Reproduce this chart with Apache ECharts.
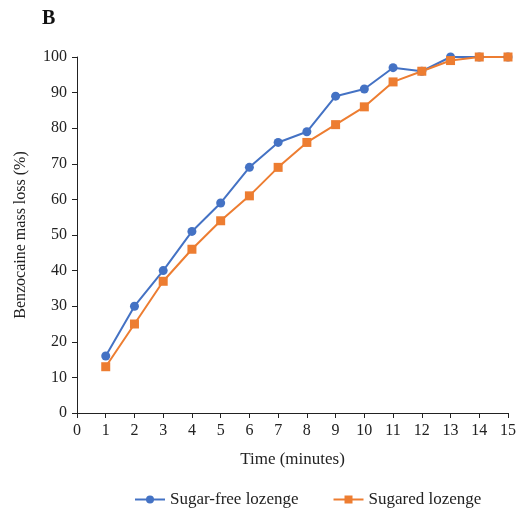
<!DOCTYPE html>
<html>
<head>
<meta charset="utf-8">
<script src="https://cdn.jsdelivr.net/npm/echarts@6/dist/echarts.min.js"></script>
<style>
  html, body { margin: 0; padding: 0; background: #fff; }
  #main { width: 519px; height: 516px; }
</style>
</head>
<body>
<div id="main"></div>
<script>
var times = [1, 2, 3, 4, 5, 6, 7, 8, 9, 10, 11, 12, 13, 14, 15];
var sugarFree = [16, 30, 40, 51, 59, 69, 76, 79, 89, 91, 97, 96, 100, 100, 100];
var sugared = [13, 25, 37, 46, 54, 61, 69, 76, 81, 86, 93, 96, 99, 100, 100];

var font = 'Liberation Serif';

function pairs(vals) {
  return vals.map(function (v, i) { return [times[i], v]; });
}

var chart = echarts.init(document.getElementById('main'));

chart.setOption({
  backgroundColor: '#fff',
  animation: false,
  textStyle: { fontFamily: font, color: '#222' },
  title: {
    text: 'B',
    left: 37,
    top: 4,
    textStyle: { fontFamily: font, fontSize: 20, fontWeight: 'bold', color: '#111' }
  },
  grid: { left: 77, right: 9, top: 57, bottom: 103 },
  legend: {
    bottom: 3,
    left: 129,
    itemGap: 34,
    itemWidth: 30,
    itemHeight: 10,
    textStyle: { fontFamily: font, fontSize: 17, color: '#222' },
    data: ['Sugar-free lozenge', 'Sugared lozenge']
  },
  xAxis: {
    type: 'value',
    min: 0,
    max: 15,
    interval: 1,
    name: 'Time (minutes)',
    nameLocation: 'middle',
    nameGap: 38,
    nameTextStyle: { fontFamily: font, fontSize: 17, color: '#222' },
    axisLine: { lineStyle: { color: '#222', width: 1 } },
    axisTick: { show: true, inside: false, length: 5, lineStyle: { color: '#222' } },
    axisLabel: { fontFamily: font, fontSize: 16, color: '#222', margin: 10 },
    splitLine: { show: false }
  },
  yAxis: {
    type: 'value',
    min: 0,
    max: 100,
    interval: 10,
    name: 'Benzocaine mass loss (%)',
    nameLocation: 'middle',
    nameGap: 48,
    nameTextStyle: { fontFamily: font, fontSize: 16, color: '#222' },
    axisLine: { show: true, lineStyle: { color: '#222', width: 1 } },
    axisTick: { show: true, inside: false, length: 5, lineStyle: { color: '#222' } },
    axisLabel: { fontFamily: font, fontSize: 16, color: '#222', margin: 10 },
    splitLine: { show: false }
  },
  series: [
    {
      name: 'Sugar-free lozenge',
      type: 'line',
      data: pairs(sugarFree),
      symbol: 'circle',
      symbolSize: 9,
      color: '#4472C4',
      lineStyle: { width: 2, color: '#4472C4' },
      itemStyle: { color: '#4472C4' }
    },
    {
      name: 'Sugared lozenge',
      type: 'line',
      data: pairs(sugared),
      symbol: 'rect',
      symbolSize: 9,
      color: '#ED7D31',
      lineStyle: { width: 2, color: '#ED7D31' },
      itemStyle: { color: '#ED7D31' }
    }
  ]
});

window.addEventListener('resize', chart.resize);
</script>
</body>
</html>
